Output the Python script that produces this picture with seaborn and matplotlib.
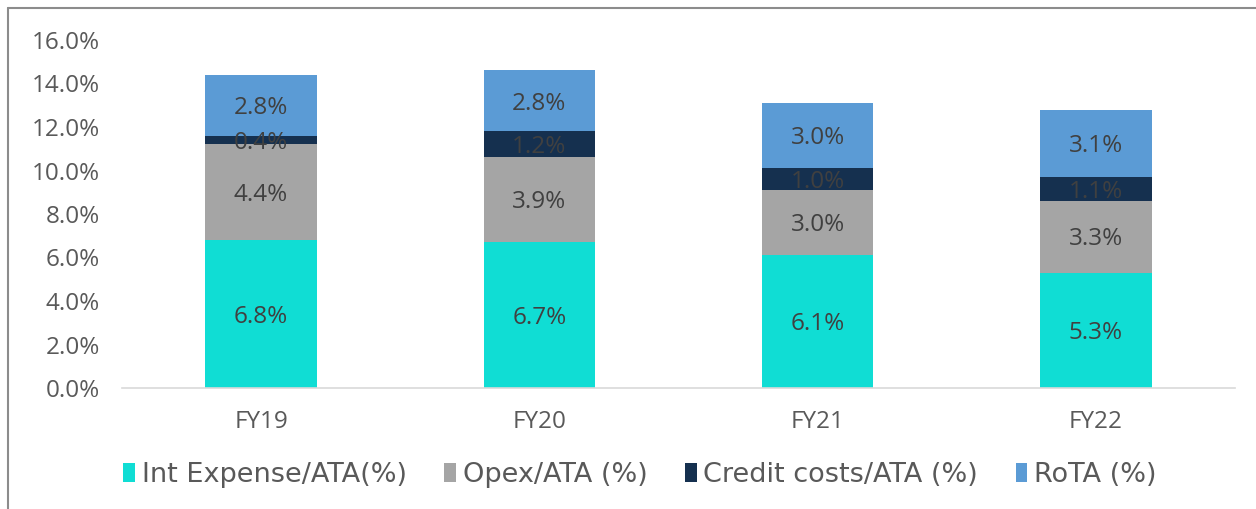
import pandas as pd
import numpy as np
import matplotlib
matplotlib.use("Agg")
import matplotlib.pyplot as plt
import seaborn as sns
from matplotlib.lines import Line2D
from matplotlib.patches import Patch

# data
years = ["FY19", "FY20", "FY21", "FY22"]
series_names = ["Int Expense/ATA(%)", "Opex/ATA (%)", "Credit costs/ATA (%)", "RoTA (%)"]
int_expense = [6.8, 6.7, 6.1, 5.3]
opex = [4.4, 3.9, 3.0, 3.3]
credit_costs = [0.4, 1.2, 1.0, 1.1]
rota = [2.8, 2.8, 3.0, 3.1]
colors = ["#10DDD4", "#A5A5A5", "#15304F", "#5B9BD5"]

sns.set_theme(style="white")
plt.rcParams["font.family"] = ["Open Sans", "DejaVu Sans"]

fig = plt.figure(figsize=(12.56, 5.09), dpi=100)
ax = fig.add_axes([122 / 1256, 1 - 388 / 509, (1235 - 122) / 1256, (388 - 40) / 509])

values = [int_expense, opex, credit_costs, rota]
cum = np.cumsum(np.array(values), axis=0)

# draw cumulative totals from the top series down so lower segments overlay
for i in reversed(range(len(values))):
    df = pd.DataFrame({"year": years, "total": cum[i]})
    sns.barplot(data=df, x="year", y="total", color=colors[i], width=0.4,
                saturation=1, ax=ax, linewidth=0)

# segment labels
for i in range(len(values)):
    for j, y in enumerate(years):
        bottom = cum[i][j] - values[i][j]
        mid = bottom + values[i][j] / 2
        ax.text(j, mid - 0.12, f"{values[i][j]:.1f}%", ha="center", va="center",
                fontsize=17.5, color="#404040")

ax.set_ylim(0, 16)
ax.set_xlim(-0.5, 3.5)
ax.set_yticks(np.arange(0, 16.1, 2))
ax.set_yticklabels([f"{t:.1f}%" for t in np.arange(0, 16.1, 2)])
ax.set_xlabel("")
ax.set_ylabel("")
ax.tick_params(axis="both", length=0, labelsize=17.5, labelcolor="#595959")
ax.tick_params(axis="y", pad=16)
ax.tick_params(axis="x", pad=16)
for side in ["top", "right", "left"]:
    ax.spines[side].set_visible(False)
ax.spines["bottom"].set_color("#D9D9D9")
ax.spines["bottom"].set_linewidth(1.2)

handles = [Patch(facecolor=c, edgecolor="none") for c in colors]
fig.legend(handles, series_names, loc="center", bbox_to_anchor=(0.5096, 1 - 475 / 509),
           ncol=4, frameon=False, prop={"family": "DejaVu Sans", "size": 19.5},
           labelcolor="#595959",
           handlelength=0.42, handleheight=0.7, handletextpad=0.25, columnspacing=1.4)

# outer frame (left and top edges visible in the reference)
fig.add_artist(Line2D([8 / 1256, 8 / 1256], [0, 1 - 8 / 509], color="#8C8C8C", lw=1.5))
fig.add_artist(Line2D([8 / 1256, 1], [1 - 8 / 509, 1 - 8 / 509], color="#8C8C8C", lw=1.5))

fig.savefig("out.png", dpi=100)
